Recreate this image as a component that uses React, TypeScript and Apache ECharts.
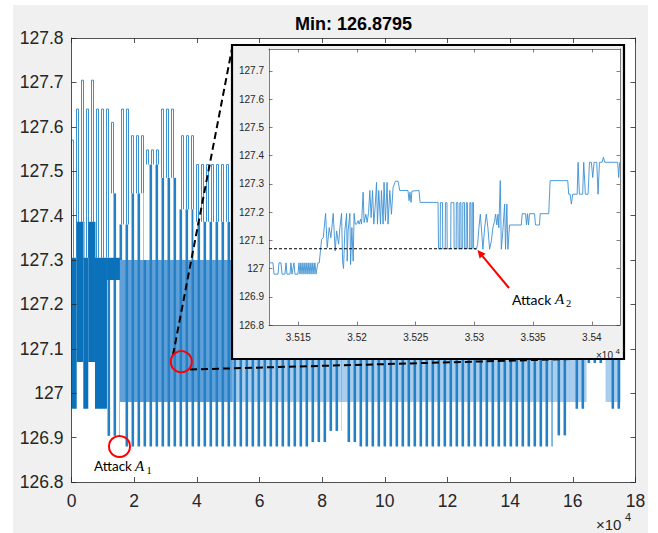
import React, { useEffect, useRef } from 'react';
import * as echarts from 'echarts';

// ---------- text / ticks ----------
const chartTitle = 'Min: 126.8795';
const mainXTicks = [0, 20000, 40000, 60000, 80000, 100000, 120000, 140000, 160000, 180000];
const mainYTicks = [126.8, 126.9, 127, 127.1, 127.2, 127.3, 127.4, 127.5, 127.6, 127.7, 127.8];
const insetXTicks = [35150, 35200, 35250, 35300, 35350, 35400];
const insetYTicks = [126.8, 126.9, 127, 127.1, 127.2, 127.3, 127.4, 127.5, 127.6, 127.7];

// ---------- main signal (envelope) ----------
// pulse groups above the main band (start, end, level where they leave the band, peak)
const groupStart = [0, 478, 2232, 4145, 6154, 7908, 11639, 14572, 18494, 23118, 28379, 33641, 38902];
const groupEnd = [478, 2232, 4145, 6154, 7908, 11639, 14572, 18494, 23118, 28379, 33641, 38902, 51500];
const groupPeak = [127.57, 127.64, 127.705, 127.64, 127.705, 127.64, 127.61, 127.64, 127.58, 127.548, 127.64, 127.58, 127.515];
const groupMid = [127.305, 127.305, 127.386, 127.305, 127.386, 127.305, 127.45, 127.38, 127.45, 127.515, 127.485, 127.414, 127.386];
const bandTop = 127.3;

// dense (solid) blocks at the start
const denseStart = [0, 1658, 3763, 5357, 7493, 11320];
const denseEnd = [1658, 3763, 5357, 7493, 11320, 15465];
const denseLow = [126.965, 127.07, 126.965, 127.07, 126.965, 127.255];
const denseHigh = [127.305, 127.386, 127.305, 127.386, 127.305, 127.305];

// oscillating stripes below the band (start, end, lowest value, highest)
const stripeStart = [11320, 15465, 75732, 81472, 86255, 91357, 153536, 158957, 164378, 170437];
const stripeEnd = [15465, 75732, 81472, 86255, 91357, 153536, 158957, 164378, 170437, 175220];
const stripeLow = [126.904, 126.88, 126.89, 126.915, 126.89, 126.88, 126.905, 126.965, 127.068, 126.965];
const stripeHigh = [127.255, 127.3, 127.3, 127.3, 127.3, 127.3, 127.3, 127.3, 127.3, 127.3];

// filled zones between stripes (dense oscillation)
const fillStart = [15465, 51500, 170437];
const fillEnd = [51500, 164378, 175220];
const fillLow = [126.98, 126.98, 126.98];
const fillHigh = [127.3, 127.3, 127.3];

// ---------- inset (zoomed signal) ----------
const insetX = [
  35125.0, 35128.4, 35129.3, 35132.7, 35133.5, 35135.2, 35136.1, 35138.6, 35139.5, 35140.3,
  35142.9, 35143.7, 35144.6, 35146.3, 35147.1, 35149.7, 35150.5, 35151.4, 35152.2, 35153.1,
  35153.9, 35154.8, 35155.6, 35156.5, 35157.3, 35158.2, 35159.0, 35159.9, 35160.7, 35161.6,
  35162.4, 35163.3, 35164.1, 35165.0, 35166.7,
  35167.8, 35169.8, 35171.2, 35173.2, 35174.6, 35176.3, 35177.7, 35179.7, 35181.4, 35182.6,
  35184.3, 35185.4, 35186.8, 35187.7, 35188.5, 35189.6, 35191.1, 35191.6, 35192.4, 35193.9,
  35194.5, 35195.6, 35196.7, 35197.5, 35198.4, 35199.6, 35200.9, 35201.8, 35203.0, 35203.8,
  35205.2, 35206.0, 35207.5, 35208.6, 35209.8, 35210.9, 35212.0, 35213.2, 35214.3, 35215.4,
  35216.6, 35217.4, 35218.5, 35220.0, 35220.8, 35222.2, 35223.0, 35224.2, 35225.6, 35226.4,
  35227.9, 35229.3, 35230.7, 35232.7, 35234.9, 35236.4, 35243.4, 35244.3, 35245.1, 35246.0,
  35246.8, 35252.8, 35253.7, 35269.0,
  35269.4, 35270.8, 35271.0, 35272.8, 35273.0, 35275.1, 35275.3, 35276.6, 35276.8, 35279.8,
  35280.0, 35282.5, 35282.7, 35284.4, 35284.6, 35285.9, 35286.1, 35287.4, 35287.6, 35288.5,
  35288.7, 35290.0, 35290.1, 35291.5, 35291.7, 35292.9, 35293.1, 35294.0, 35294.2, 35295.9,
  35296.1, 35297.0, 35297.2, 35298.1, 35298.2, 35299.2, 35299.3,
  35301.6, 35302.7, 35303.8, 35305.0, 35306.1, 35307.2, 35308.7, 35310.1, 35311.5, 35312.9,
  35314.4, 35315.7, 35317.2, 35318.0, 35319.1, 35320.0, 35320.8, 35322.0, 35322.9, 35324.2,
  35325.7, 35326.5, 35327.6, 35328.5, 35329.9, 35339.9, 35340.7, 35343.5, 35344.4, 35345.2,
  35346.1, 35346.9, 35351.2, 35352.0, 35355.4, 35356.0, 35363.3, 35364.5, 35379.5, 35380.3,
  35381.5, 35382.6, 35383.7, 35387.5, 35388.3, 35389.4, 35392.2, 35393.1, 35394.5, 35396.8,
  35398.0, 35399.6, 35400.8, 35401.9, 35404.2, 35405.3, 35406.5, 35408.7, 35409.9, 35411.0,
  35422.0, 35422.9, 35423.7,
];
const insetY = [
  127.02, 127.02, 126.98, 126.98, 127.02, 127.02, 126.98, 126.98, 127.02, 126.98,
  126.98, 127.02, 126.98, 127.02, 126.98, 126.98, 127.02, 126.98, 127.02, 126.98,
  127.02, 126.98, 127.02, 126.98, 127.02, 126.98, 127.02, 126.98, 127.02, 126.98,
  127.02, 126.98, 127.02, 126.98, 127.02,
  127.02, 127.103, 127.109, 127.195, 127.074, 127.145, 127.109, 127.195, 127.062, 127.133,
  127.086, 127.145, 127.195, 127.026, 127.0, 127.133, 127.195, 127.026, 127.133, 127.195,
  127.014, 127.145, 127.026, 127.195, 127.157, 127.157, 127.169, 127.157, 127.175, 127.157,
  127.27, 127.163, 127.192, 127.163, 127.198, 127.276, 127.18, 127.276, 127.157, 127.216,
  127.305, 127.157, 127.276, 127.157, 127.276, 127.157, 127.305, 127.169, 127.305, 127.157,
  127.276, 127.192, 127.287, 127.309, 127.309, 127.276, 127.276, 127.24, 127.27, 127.234,
  127.274, 127.276, 127.234, 127.234,
  127.07, 127.07, 127.233, 127.233, 127.07, 127.07, 127.233, 127.233, 127.07, 127.07,
  127.233, 127.233, 127.07, 127.07, 127.233, 127.233, 127.07, 127.07, 127.233, 127.233,
  127.07, 127.07, 127.233, 127.233, 127.07, 127.07, 127.233, 127.233, 127.07, 127.07,
  127.233, 127.233, 127.07, 127.07, 127.233, 127.233, 127.07,
  127.068, 127.085, 127.144, 127.192, 127.133, 127.068, 127.144, 127.192, 127.144, 127.068,
  127.097, 127.144, 127.168, 127.192, 127.154, 127.192, 127.144, 127.311, 127.068, 127.133,
  127.228, 127.068, 127.228, 127.068, 127.154, 127.154, 127.194, 127.194, 127.154, 127.194,
  127.154, 127.194, 127.194, 127.154, 127.154, 127.194, 127.194, 127.311, 127.311, 127.263,
  127.263, 127.228, 127.263, 127.263, 127.376, 127.263, 127.263, 127.376, 127.263, 127.263,
  127.376, 127.376, 127.322, 127.376, 127.376, 127.263, 127.376, 127.376, 127.394, 127.376,
  127.376, 127.322, 127.376,
];
const attackLevel = 127.07;
const attackLineEnd = 35301.6;

const AXIS = '#262626';
const FONT = 'Liberation Sans, Arial, sans-serif';
const FILL_COLORS = ['#5fa0d9', '#a9cdec', '#a9cdec'];

function buildBands(): number[][] {
  const bands: number[][] = [];
  fillStart.forEach((s, i) => bands.push([s, fillEnd[i], fillLow[i], fillHigh[i], 0, i]));
  stripeStart.forEach((s, i) => bands.push([s, stripeEnd[i], stripeLow[i], stripeHigh[i], 1, 0]));
  groupStart.forEach((s, i) => {
    if (groupMid[i] > bandTop + 0.01) bands.push([s, groupEnd[i], bandTop, groupMid[i], 1, 0]);
    bands.push([s, groupEnd[i], groupMid[i], groupPeak[i], 2, 0]);
  });
  denseStart.forEach((s, i) => bands.push([s, denseEnd[i], denseLow[i], denseHigh[i], 3, 0]));
  return bands;
}

function renderBand(params: any, api: any) {
  const x0 = api.value(0), x1 = api.value(1), lo = api.value(2), hi = api.value(3);
  const kind = api.value(4), shade = api.value(5);
  const a = api.coord([x0, hi]);
  const b = api.coord([x1, lo]);
  const left = a[0], right = b[0], top = a[1], bottom = b[1];
  const cs = params.coordSys;
  if (kind === 0) {
    return { type: 'rect', shape: { x: left, y: top, width: right - left, height: bottom - top }, style: { fill: FILL_COLORS[shade] } };
  }
  if (kind === 3) {
    return { type: 'rect', shape: { x: left, y: top, width: right - left, height: bottom - top }, style: { fill: '#0b71ba' } };
  }
  const children: any[] = [];
  if (kind === 1) {
    const pitch = 6, w = 2.6;
    for (let s = cs.x + Math.ceil((left - cs.x) / pitch) * pitch; s < right; s += pitch) {
      children.push({ type: 'rect', shape: { x: s, y: top, width: Math.min(w, right - s), height: bottom - top }, style: { fill: '#2680c6' } });
    }
  } else {
    const pitch = 5;
    const ls = { stroke: '#3c91d3', lineWidth: 1 };
    const base = Math.floor(cs.x) + 0.5;
    for (let s = base + Math.ceil((left - base) / pitch) * pitch; s < right - 1; s += pitch) {
      children.push({ type: 'line', shape: { x1: s, y1: bottom, x2: s, y2: top }, style: ls });
      children.push({ type: 'line', shape: { x1: s + 2, y1: bottom, x2: s + 2, y2: top }, style: ls });
      children.push({ type: 'line', shape: { x1: s, y1: top, x2: s + 2, y2: top }, style: ls });
    }
  }
  return { type: 'group', children };
}

function valueAxis(extra: any) {
  return {
    type: 'value',
    splitLine: { show: false },
    axisLine: { show: true, onZero: false, lineStyle: { color: AXIS, width: 0.8 } },
    ...extra,
  };
}

export default function App() {
  const ref = useRef<HTMLDivElement>(null);
  useEffect(() => {
    if (!ref.current) return;
    const chart = echarts.init(ref.current, null, { renderer: 'svg' });
    const bands = buildBands();
    const insetData = insetX.map((x, i) => [x, insetY[i]]);
    const mainTickStyle = { inside: true, length: 5, lineStyle: { color: AXIS, width: 0.8 } };
    const insetTickStyle = { inside: true, length: 3.5, lineStyle: { color: AXIS, width: 0.6 } };
    const insetLine = { show: true, onZero: false, lineStyle: { color: AXIS, width: 0.6 } };
    const annot = 'Lato, Open Sans, sans-serif';
    const mathFont = 'Liberation Serif, serif';

    const option: any = {
      animation: false,
      backgroundColor: '#ffffff',
      grid: [
        { left: 71.5, top: 38, width: 564, height: 444, show: false, containLabel: false, outerBoundsMode: 'none' },
        { left: 269, top: 49, width: 351, height: 276, show: false, containLabel: false, outerBoundsMode: 'none' },
      ],
      xAxis: [
        valueAxis({
          gridIndex: 0, min: 0, max: 180000, position: 'bottom', z: 3,
          axisTick: { ...mainTickStyle, customValues: mainXTicks },
          axisLabel: { customValues: mainXTicks, formatter: (v: number) => String(v / 10000), fontSize: 17.5, color: AXIS, fontFamily: FONT, margin: 10 },
        }),
        valueAxis({
          gridIndex: 0, min: 0, max: 180000, position: 'top', z: 3,
          axisTick: { ...mainTickStyle, customValues: mainXTicks },
          axisLabel: { show: false },
        }),
        valueAxis({
          gridIndex: 1, min: 35125, max: 35424, position: 'bottom', z: 103,
          axisLine: insetLine,
          axisTick: { ...insetTickStyle, customValues: insetXTicks },
          axisLabel: { customValues: insetXTicks, formatter: (v: number) => String(v / 10000), fontSize: 10, color: AXIS, fontFamily: FONT, margin: 7 },
        }),
        valueAxis({
          gridIndex: 1, min: 35125, max: 35424, position: 'top', z: 103,
          axisLine: insetLine,
          axisTick: { ...insetTickStyle, customValues: insetXTicks },
          axisLabel: { show: false },
        }),
      ],
      yAxis: [
        valueAxis({
          gridIndex: 0, min: 126.8, max: 127.8, position: 'left', z: 3,
          axisTick: { ...mainTickStyle, customValues: mainYTicks },
          axisLabel: { customValues: mainYTicks, formatter: (v: number) => String(v), fontSize: 17.5, color: AXIS, fontFamily: FONT, margin: 8 },
        }),
        valueAxis({
          gridIndex: 0, min: 126.8, max: 127.8, position: 'right', z: 3,
          axisTick: { ...mainTickStyle, customValues: mainYTicks },
          axisLabel: { show: false },
        }),
        valueAxis({
          gridIndex: 1, min: 126.8, max: 127.777, position: 'left', z: 103,
          axisLine: insetLine,
          axisTick: { ...insetTickStyle, customValues: insetYTicks },
          axisLabel: { customValues: insetYTicks, formatter: (v: number) => String(v), fontSize: 10, color: AXIS, fontFamily: FONT, margin: 5 },
        }),
        valueAxis({
          gridIndex: 1, min: 126.8, max: 127.777, position: 'right', z: 103,
          axisLine: insetLine,
          axisTick: { ...insetTickStyle, customValues: insetYTicks },
          axisLabel: { show: false },
        }),
      ],
      series: [
        {
          type: 'custom', xAxisIndex: 0, yAxisIndex: 0, z: 2, silent: true, clip: true,
          data: bands, encode: { x: [0, 1], y: [2, 3] },
          renderItem: renderBand,
        },
        {
          type: 'line', xAxisIndex: 2, yAxisIndex: 2, z: 104, silent: true, clip: true,
          data: insetData, symbol: 'none', showSymbol: false,
          lineStyle: { color: '#3b8ed3', width: 0.9 },
        },
        {
          type: 'line', xAxisIndex: 2, yAxisIndex: 2, z: 105, silent: true,
          data: [[35125, attackLevel], [attackLineEnd, attackLevel]], symbol: 'none', showSymbol: false,
          lineStyle: { color: '#000', width: 1, type: [3, 2] },
        },
      ],
      graphic: [
        { type: 'rect', z: -10, silent: true, shape: { x: 13, y: 5, width: 635, height: 528 }, style: { fill: '#f0f0f0' } },
        { type: 'rect', z: -9, silent: true, shape: { x: 71.5, y: 38, width: 564, height: 444 }, style: { fill: '#ffffff' } },
        { type: 'text', z: 5, x: 353.5, y: 24, style: { text: chartTitle, fontSize: 18, fontWeight: 'bold', fontFamily: FONT, fill: '#000', align: 'center', verticalAlign: 'middle' } },
        { type: 'text', z: 5, x: 596, y: 524, style: { text: '×10', fontSize: 15, fontFamily: FONT, fill: AXIS, verticalAlign: 'middle' } },
        { type: 'text', z: 5, x: 625, y: 517, style: { text: '4', fontSize: 11, fontFamily: FONT, fill: AXIS, verticalAlign: 'middle' } },
        // zoom connectors and markers
        { type: 'line', z: 50, silent: true, shape: { x1: 173, y1: 355, x2: 232.5, y2: 46 }, style: { stroke: '#000', lineWidth: 2, lineDash: [7, 4] } },
        { type: 'line', z: 50, silent: true, shape: { x1: 190, y1: 369.5, x2: 624, y2: 357.5 }, style: { stroke: '#000', lineWidth: 2, lineDash: [7, 4] } },
        { type: 'circle', z: 51, silent: true, shape: { cx: 181.3, cy: 361.7, r: 10.5 }, style: { stroke: '#ff0000', lineWidth: 2, fill: 'none' } },
        { type: 'circle', z: 51, silent: true, shape: { cx: 119.5, cy: 446.5, r: 10.5 }, style: { stroke: '#ff0000', lineWidth: 2, fill: 'none' } },
        { type: 'text', z: 51, x: 94, y: 466, style: { text: 'Attack', fontSize: 13.5, fontFamily: annot, fill: '#000', verticalAlign: 'middle' } },
        { type: 'text', z: 51, x: 135, y: 466, style: { text: 'A', fontSize: 15, fontStyle: 'italic', fontFamily: mathFont, fill: '#000', verticalAlign: 'middle' } },
        { type: 'text', z: 51, x: 146.5, y: 470.5, style: { text: '1', fontSize: 10.5, fontFamily: mathFont, fill: '#000', verticalAlign: 'middle' } },
        // inset frame
        { type: 'rect', z: 100, silent: true, shape: { x: 232, y: 45, width: 392, height: 314 }, style: { fill: '#f0f0f0' } },
        { type: 'rect', z: 101, silent: true, shape: { x: 269, y: 49, width: 351, height: 276 }, style: { fill: '#ffffff' } },
        { type: 'text', z: 110, x: 596, y: 355, style: { text: '×10', fontSize: 10, fontFamily: FONT, fill: AXIS, verticalAlign: 'middle' } },
        { type: 'text', z: 110, x: 615.5, y: 351, style: { text: '4', fontSize: 8, fontFamily: FONT, fill: AXIS, verticalAlign: 'middle' } },
        { type: 'rect', z: 120, silent: true, shape: { x: 232, y: 45, width: 392, height: 314 }, style: { fill: 'none', stroke: '#000', lineWidth: 2.2 } },
        // attack A2 arrow
        { type: 'line', z: 110, silent: true, shape: { x1: 509, y1: 288, x2: 482.5, y2: 256.2 }, style: { stroke: '#ff0000', lineWidth: 2 } },
        { type: 'polygon', z: 110, silent: true, shape: { points: [[477.5, 250], [485.6, 253.7], [479.6, 258.6]] }, style: { fill: '#ff0000' } },
        { type: 'text', z: 110, x: 512, y: 299, style: { text: 'Attack', fontSize: 14, fontFamily: annot, fill: '#000', verticalAlign: 'middle' } },
        { type: 'text', z: 110, x: 555, y: 299, style: { text: 'A', fontSize: 15, fontStyle: 'italic', fontFamily: mathFont, fill: '#000', verticalAlign: 'middle' } },
        { type: 'text', z: 110, x: 566, y: 303.5, style: { text: '2', fontSize: 10.5, fontFamily: mathFont, fill: '#000', verticalAlign: 'middle' } },
      ],
    };
    chart.setOption(option);
    return () => chart.dispose();
  }, []);
  return <div ref={ref} style={{ position: 'fixed', left: 0, top: 0, width: 658, height: 533 }} />;
}
